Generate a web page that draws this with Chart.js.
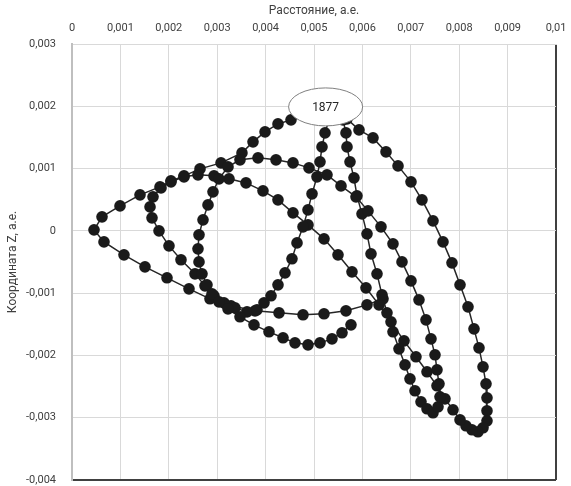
<!DOCTYPE html>
<html>
<head>
<meta charset="utf-8">
<script src="https://cdn.jsdelivr.net/npm/chart.js@4/dist/chart.umd.min.js"></script>
<style>
  html, body { margin: 0; padding: 0; background: #ffffff; overflow: hidden; }
  #c { display: block; }
</style>
</head>
<body>
<canvas id="c" width="571" height="486"></canvas>
<script>
// Trajectory (distance, a.u.), in drawing order
const distanceX = [
  0.006426, 0.006095, 0.005661, 0.005207, 0.004773, 0.004277, 0.003781, 0.003285, 0.002851, 0.002417,
  0.001963, 0.001508, 0.001074, 0.000661, 0.000455,
  0.000620, 0.000992, 0.001405, 0.001818, 0.002045, 0.002314, 0.002645, 0.003079, 0.003512, 0.003740,
  0.003988, 0.004256, 0.004525, 0.004814, 0.005103, 0.005393, 0.005682,
  0.005930, 0.006219, 0.006488, 0.006736, 0.007004, 0.007231, 0.007459, 0.007665, 0.007851, 0.008017,
  0.008182, 0.008306, 0.008409, 0.008492, 0.008554, 0.008574, 0.008574, 0.008574, 0.008492, 0.008388,
  0.008264, 0.008140, 0.008017,
  0.007872, 0.007707, 0.007541, 0.007335, 0.007107, 0.006860, 0.006591, 0.006343, 0.006074, 0.005785,
  0.005496, 0.005207, 0.004876, 0.004566, 0.004256, 0.003946, 0.003595, 0.003244, 0.002934, 0.002603,
  0.002314, 0.002045, 0.001839,
  0.001674, 0.001612, 0.001653, 0.001798, 0.002004, 0.002252, 0.002541, 0.002748, 0.002934, 0.003140,
  0.003368, 0.003616, 0.003822, 0.003967, 0.004112, 0.004256, 0.004401, 0.004545, 0.004649, 0.004773,
  0.004876, 0.004959, 0.005062, 0.005124, 0.005165, 0.005227,
  0.005310, 0.005455, 0.005599,
  0.005661, 0.005682, 0.005744, 0.005826, 0.005888, 0.005992, 0.006095, 0.006178, 0.006302, 0.006405,
  0.006508, 0.006632, 0.006756, 0.006880, 0.006983, 0.007087, 0.007211, 0.007335, 0.007459, 0.007562,
  0.007603, 0.007583, 0.007541, 0.007500, 0.007417, 0.007314, 0.007169, 0.007004, 0.006818, 0.006632,
  0.006384, 0.006116, 0.005868, 0.005558, 0.005269, 0.004897, 0.004566, 0.004215, 0.003843, 0.003471,
  0.003223, 0.003037, 0.002913, 0.002810, 0.002707, 0.002624, 0.002603, 0.002624, 0.002686, 0.002789,
  0.002893,
  0.003037, 0.003223, 0.003471, 0.003760, 0.004070, 0.004360, 0.004607, 0.004876, 0.005124, 0.005372,
  0.005579, 0.005764
];
// Coordinate Z, a.u.
const coordZ = [
  -0.001091, -0.001188, -0.001284, -0.001332, -0.001348, -0.001316, -0.001284, -0.001204, -0.001091, -0.000931,
  -0.000754, -0.000578, -0.000385, -0.000177, 0.000016,
  0.000225, 0.000401, 0.000578, 0.000706, 0.000803, 0.000883, 0.000995, 0.001091, 0.001252, 0.001429,
  0.001589, 0.001717, 0.001782, 0.001862, 0.001910, 0.001894, 0.001798,
  0.001621, 0.001493, 0.001268, 0.001043, 0.000787, 0.000498, 0.000161, -0.000177, -0.000514, -0.000867,
  -0.001220, -0.001573, -0.001878, -0.002183, -0.002456, -0.002681, -0.002889, -0.003050, -0.003162, -0.003226,
  -0.003194, -0.003130, -0.003034,
  -0.002873, -0.002697, -0.002488, -0.002263, -0.002022, -0.001766, -0.001461, -0.001188, -0.000915, -0.000658,
  -0.000385, -0.000128, 0.000096, 0.000289, 0.000498, 0.000642, 0.000770, 0.000835, 0.000883, 0.000899,
  0.000867, 0.000787, 0.000690,
  0.000546, 0.000385, 0.000209, 0.000000, -0.000241, -0.000465, -0.000690, -0.000883, -0.001043, -0.001156,
  -0.001236, -0.001300, -0.001268, -0.001156, -0.001043, -0.000867, -0.000674, -0.000449, -0.000193, 0.000064,
  0.000337, 0.000594, 0.000867, 0.001108, 0.001348, 0.001573,
  0.001782, 0.001894, 0.001782,
  0.001573, 0.001348, 0.001108, 0.000851, 0.000562, 0.000273, -0.000048, -0.000369, -0.000690, -0.001027,
  -0.001316, -0.001621, -0.001894, -0.002151, -0.002376, -0.002568, -0.002745, -0.002857, -0.002921, -0.002825,
  -0.002664, -0.002456, -0.002231, -0.001990, -0.001734, -0.001429, -0.001108, -0.000803, -0.000498, -0.000209,
  0.000064, 0.000321, 0.000546, 0.000722, 0.000899, 0.001011, 0.001091, 0.001140, 0.001172, 0.001140,
  0.001027, 0.000835, 0.000626, 0.000417, 0.000177, -0.000064, -0.000289, -0.000498, -0.000690, -0.000867,
  -0.001011,
  -0.001140, -0.001252, -0.001380, -0.001509, -0.001621, -0.001717, -0.001798, -0.001830, -0.001798, -0.001734,
  -0.001637, -0.001509
];

const xTickValues = [0, 0.001, 0.002, 0.003, 0.004, 0.005, 0.006, 0.007, 0.008, 0.009, 0.01];
const xTickLabels = ['0', '0,001', '0,002', '0,003', '0,004', '0,005', '0,006', '0,007', '0,008', '0,009', '0,01'];
const yTickValues = [-0.004, -0.003, -0.002, -0.001, 0, 0.001, 0.002, 0.003];
const yTickLabels = ['-0,004', '-0,003', '-0,002', '-0,001', '0', '0,001', '0,002', '0,003'];

const xTitle = 'Расстояние, а.е.';
const yTitle = 'Координата Z, а.е.';

const calloutText = '1877';
const calloutX = 0.00524;
const calloutZ = 0.00199;

const points = distanceX.map((x, i) => ({ x: x, y: coordZ[i] }));

const FONT = 'Roboto, "Liberation Sans", sans-serif';

const calloutPlugin = {
  id: 'callout',
  afterDatasetsDraw(chart) {
    const ctx = chart.ctx;
    const cx = chart.scales.x.getPixelForValue(calloutX);
    const cy = chart.scales.y.getPixelForValue(calloutZ);
    ctx.save();
    ctx.beginPath();
    ctx.ellipse(cx, cy, 37, 19, 0, 0, Math.PI * 2);
    ctx.fillStyle = '#ffffff';
    ctx.fill();
    ctx.lineWidth = 1;
    ctx.strokeStyle = '#7f7f7f';
    ctx.stroke();
    ctx.fillStyle = '#262626';
    ctx.font = '12px ' + FONT;
    ctx.textAlign = 'center';
    ctx.textBaseline = 'middle';
    ctx.fillText(calloutText, cx, cy + 1);
    ctx.restore();
  }
};

new Chart(document.getElementById('c'), {
  type: 'scatter',
  data: {
    datasets: [{
      data: points,
      showLine: true,
      borderColor: '#262626',
      borderWidth: 1.5,
      backgroundColor: '#1a1a1a',
      pointBackgroundColor: '#1a1a1a',
      pointBorderColor: '#1a1a1a',
      pointRadius: 5.8,
      pointBorderWidth: 0,
      tension: 0
    }]
  },
  options: {
    responsive: false,
    animation: false,
    devicePixelRatio: 1,
    layout: { padding: { left: 0, right: 15, top: 0, bottom: 6 } },
    plugins: { legend: { display: false }, tooltip: { enabled: false } },
    scales: {
      x: {
        type: 'linear',
        position: 'top',
        min: 0,
        max: 0.01,
        afterBuildTicks(scale) { scale.ticks = xTickValues.map(v => ({ value: v })); },
        afterFit(scale) { scale.height = 44; scale.paddingLeft = 0; scale.paddingRight = 0; },
        ticks: {
          callback: (v, i) => xTickLabels[i],
          font: { family: FONT, size: 11 },
          color: '#404040',
          padding: 9,
          maxRotation: 0,
          autoSkip: false
        },
        grid: {
          drawTicks: false,
          color: (c) => c.index === xTickValues.length - 1 ? '#404040' : '#d9d9d9',
          lineWidth: (c) => c.index === xTickValues.length - 1 ? 2 : 1
        },
        border: { color: '#d9d9d9', width: 1 },
        title: {
          display: true,
          text: xTitle,
          font: { family: FONT, size: 12 },
          color: '#404040',
          padding: { top: 4, bottom: 2 }
        }
      },
      y: {
        type: 'linear',
        position: 'left',
        min: -0.004,
        max: 0.003,
        afterBuildTicks(scale) { scale.ticks = yTickValues.map(v => ({ value: v })); },
        afterFit(scale) { scale.width = 72; scale.paddingTop = 0; scale.paddingBottom = 0; },
        ticks: {
          callback: (v, i) => yTickLabels[i],
          font: { family: FONT, size: 11 },
          color: '#404040',
          padding: 16,
          autoSkip: false
        },
        grid: {
          drawTicks: false,
          color: (c) => c.index === 0 ? '#404040' : '#d9d9d9',
          lineWidth: (c) => c.index === 0 ? 2 : 1
        },
        border: { color: '#bfbfbf', width: 2 },
        title: {
          display: true,
          text: yTitle,
          font: { family: FONT, size: 12 },
          color: '#404040',
          padding: { top: 6, bottom: 2 }
        }
      }
    }
  },
  plugins: [calloutPlugin]
});
</script>
</body>
</html>
